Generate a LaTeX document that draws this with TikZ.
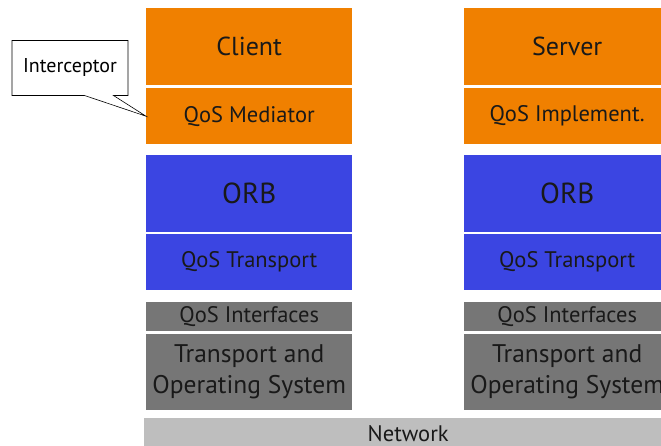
\documentclass[tikz,border=0pt]{standalone}
\usepackage{fontspec}
\setmainfont{PT Sans}
\usetikzlibrary{shapes.callouts}
\definecolor{apporange}{RGB}{240,128,0}
\definecolor{orbblue}{RGB}{59,69,226}
\definecolor{osgray}{RGB}{118,118,118}
\definecolor{netgray}{RGB}{190,190,190}
\tikzset{
  layer/.style={anchor=north west, inner sep=0pt, minimum width=206pt, align=center, text=black!90},
  app/.style={layer, fill=apporange},
  orb/.style={layer, fill=orbblue},
  os/.style={layer, fill=osgray},
  big/.style={font=\fontsize{26}{28}\selectfont},
  huge/.style={font=\fontsize{29}{30}\selectfont},
  small/.style={font=\fontsize{22.5}{24}\selectfont},
  sys/.style={font=\fontsize{25.5}{31}\selectfont},
}
\begin{document}
\begin{tikzpicture}[x=1pt, y=-1pt]
\useasboundingbox (0,0) rectangle (661,446);
\clip (0,0) rectangle (661,446);
\fill[white] (0,0) rectangle (661,446);

% client side stack
\node[app, big, minimum height=77pt] (client) at (146,8) {Client};
\node[app, small, minimum height=56pt] (mediator) at (146,88) {QoS Mediator};
\node[orb, huge, minimum height=77pt] (orbL) at (146,155) {ORB};
\node[orb, small, minimum height=56pt] (transL) at (146,234) {QoS Transport};
\node[os, small, minimum height=29pt] (ifaceL) at (146,302) {QoS Interfaces};
\node[os, sys, minimum height=76pt] (osL) at (146,334) {Transport and\\Operating System};

% server side stack
\node[app, big, minimum height=77pt] (server) at (464,8) {Server};
\node[app, small, minimum height=56pt] (impl) at (464,88) {QoS Implement.};
\node[orb, huge, minimum height=77pt] (orbR) at (464,155) {ORB};
\node[orb, small, minimum height=56pt] (transR) at (464,234) {QoS Transport};
\node[os, small, minimum height=29pt] (ifaceR) at (464,302) {QoS Interfaces};
\node[os, sys, minimum height=76pt] (osR) at (464,334) {Transport and\\Operating System};

% network
\node[layer, fill=netgray, small, minimum width=528pt, minimum height=30pt] (net) at (144,418) {Network};

% interceptor callout
\node[rectangle callout, draw=black, fill=white, line width=0.6pt, inner sep=0pt,
      minimum width=116pt, minimum height=55pt, font=\fontsize{20}{22}\selectfont,
      callout absolute pointer={(mediator.west)}, callout pointer width=29pt]
      (interceptor) at (70,68) {Interceptor};
\end{tikzpicture}
\end{document}
